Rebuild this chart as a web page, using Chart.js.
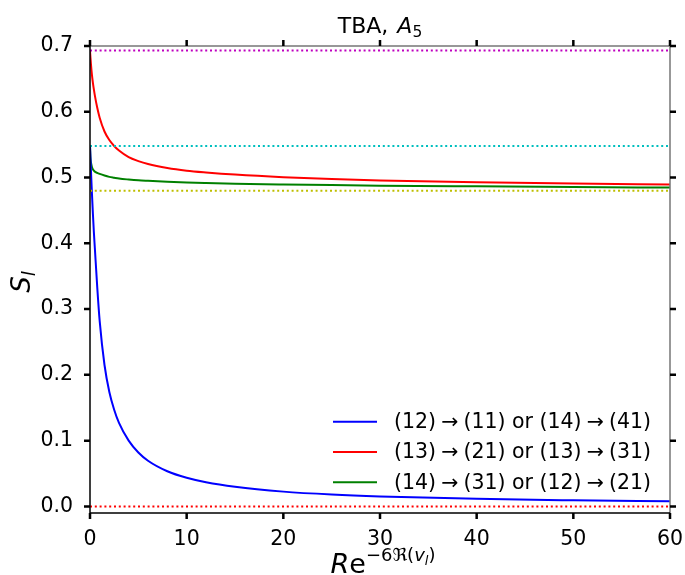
<!DOCTYPE html>
<html>
<head>
<meta charset="utf-8">
<script src="https://cdn.jsdelivr.net/npm/chart.js@4.4.1/dist/chart.umd.min.js"></script>
<style>
  html, body { margin: 0; padding: 0; background: #fff; }
  #wrap { width: 685px; height: 575px; }
</style>
</head>
<body>
<div id="wrap"><canvas id="chart" width="685" height="575"></canvas></div>
<script>
const xVals = [0, 0.05, 0.1, 0.2, 0.3, 0.4, 0.5, 0.75, 1, 1.5, 2, 2.5, 3, 4, 5, 6, 8, 10, 12, 15, 20, 25, 30, 40, 50, 60];

// (12)->(11) or (14)->(41)
const blueS = [0.548, 0.528, 0.510, 0.476, 0.445, 0.417, 0.393, 0.333, 0.282, 0.215, 0.174, 0.147, 0.127, 0.100, 0.082, 0.0695, 0.0535, 0.0435, 0.0367, 0.0298, 0.0225, 0.0181, 0.0152, 0.0115, 0.0093, 0.0077];
// (13)->(21) or (13)->(31)
const redS = [0.693, 0.682, 0.672, 0.656, 0.644, 0.634, 0.625, 0.606, 0.591, 0.570, 0.557, 0.548, 0.541, 0.531, 0.525, 0.5205, 0.5145, 0.5105, 0.5078, 0.5045, 0.5005, 0.4977, 0.4957, 0.4928, 0.4908, 0.4894];
// (14)->(31) or (12)->(21)
const greenS = [0.548, 0.530, 0.523, 0.516, 0.5125, 0.5105, 0.509, 0.507, 0.5055, 0.503, 0.501, 0.4997, 0.4985, 0.497, 0.4958, 0.495, 0.4936, 0.4925, 0.4917, 0.4907, 0.4895, 0.4885, 0.4877, 0.4866, 0.4856, 0.4848];

const seriesNames = [
    ['(12)', '(11) or (14)', '(41)'],
    ['(13)', '(21) or (13)', '(31)'],
    ['(14)', '(31) or (12)', '(21)']
];
const seriesColors = ['#0000ff', '#ff0000', '#008000'];

// dotted reference levels
const refLevels = [0.693, 0.548, 0.480, 0.0];
const refColors = ['#bf00bf', '#00bfbf', '#bfbf00', '#ff0000'];

const xTicks = [0, 10, 20, 30, 40, 50, 60];
const yTicks = [0, 0.1, 0.2, 0.3, 0.4, 0.5, 0.6, 0.7];

const FONT = '"DejaVu Sans", sans-serif';

function toPoints(ys) {
    return xVals.map((x, i) => ({ x: x, y: ys[i] }));
}

const datasets = [];
refLevels.forEach((lv, i) => {
    datasets.push({
        label: 'ref' + i,
        data: [{ x: 0, y: lv }, { x: 60, y: lv }],
        borderColor: refColors[i],
        borderWidth: 2,
        borderDash: [2, 2.8],
        pointRadius: 0,
        fill: false
    });
});
[blueS, redS, greenS].forEach((ys, i) => {
    datasets.push({
        label: seriesNames[i].join(' -> '),
        data: toPoints(ys),
        borderColor: seriesColors[i],
        borderWidth: 2,
        pointRadius: 0,
        cubicInterpolationMode: 'monotone',
        fill: false
    });
});

// spines, ticks, titles and legend drawn matplotlib-style
const decorPlugin = {
    id: 'decor',
    afterDraw(chart) {
        const ctx = chart.ctx;
        const a = chart.chartArea;
        const xs = chart.scales.x, ys = chart.scales.y;
        ctx.save();

        // spines
        ctx.lineWidth = 1.5;
        ctx.strokeStyle = '#777';
        ctx.beginPath();
        ctx.moveTo(a.left, a.top); ctx.lineTo(a.right, a.top); ctx.lineTo(a.right, a.bottom);
        ctx.stroke();
        ctx.strokeStyle = '#000';
        ctx.beginPath();
        ctx.moveTo(a.left, a.top); ctx.lineTo(a.left, a.bottom); ctx.lineTo(a.right, a.bottom);
        ctx.stroke();

        // ticks (outward, all four sides)
        const tl = 6;
        ctx.lineWidth = 2.5;
        ctx.strokeStyle = '#000';
        ctx.beginPath();
        xTicks.forEach(v => {
            const px = xs.getPixelForValue(v);
            ctx.moveTo(px, a.bottom); ctx.lineTo(px, a.bottom + tl);
            ctx.moveTo(px, a.top); ctx.lineTo(px, a.top - tl);
        });
        yTicks.forEach(v => {
            const py = ys.getPixelForValue(v);
            ctx.moveTo(a.left, py); ctx.lineTo(a.left - tl, py);
            ctx.moveTo(a.right, py); ctx.lineTo(a.right + tl, py);
        });
        ctx.stroke();

        ctx.fillStyle = '#000';
        ctx.textBaseline = 'alphabetic';
        ctx.textAlign = 'left';

        // title: TBA, A_5
        const tParts = [
            { t: 'TBA,', f: '22px ' + FONT, dy: 0 },
            { t: ' ', f: '22px ' + FONT, dy: 0, gap: 9 },
            { t: 'A', f: 'italic 22px ' + FONT, dy: 0 },
            { t: '5', f: '15.5px ' + FONT, dy: 4 }
        ];
        drawParts(ctx, tParts, 380, 33);

        // x label: R e^{-6 Re(v_l)}
        const xParts = [
            { t: 'R', f: 'italic 27px ' + FONT, dy: 0 },
            { t: 'e', f: '27px ' + FONT, dy: 0 },
            { t: '\u22126\u211c(', f: '18px ' + FONT, dy: -12 },
            { t: 'v', f: 'italic 18px ' + FONT, dy: -12 },
            { t: 'l', f: 'italic 13px ' + FONT, dy: -8 },
            { t: ')', f: '18px ' + FONT, dy: -12 }
        ];
        drawParts(ctx, xParts, 383, 573);

        // y label: S_l
        ctx.save();
        ctx.translate(30, 282);
        ctx.rotate(-Math.PI / 2);
        drawParts(ctx, [
            { t: 'S', f: 'italic 26px ' + FONT, dy: 0 },
            { t: 'l', f: 'italic 18px ' + FONT, dy: 5 }
        ], 0, 0);
        ctx.restore();

        // legend, lower right inside the axes
        const rows = [421.7, 452, 482.3];
        const textLeft = 394, textRight = 651;
        ctx.font = '20.5px ' + FONT;
        ctx.textBaseline = 'middle';
        rows.forEach((ry, i) => {
            ctx.strokeStyle = seriesColors[i];
            ctx.lineWidth = 2;
            ctx.beginPath();
            ctx.moveTo(333, ry); ctx.lineTo(377, ry);
            ctx.stroke();

            const pieces = [seriesNames[i][0], '\u2192', seriesNames[i][1], '\u2192', seriesNames[i][2]];
            let used = 0;
            pieces.forEach(p => { used += ctx.measureText(p).width; });
            const gap = Math.max(2, (textRight - textLeft - used) / 4);
            let x = textLeft;
            pieces.forEach(p => {
                ctx.fillText(p, x, ry + 1);
                x += ctx.measureText(p).width + gap;
            });
        });

        ctx.restore();
    }
};

function drawParts(ctx, parts, cx, baseY) {
    let w = 0;
    parts.forEach(p => { ctx.font = p.f; w += p.gap !== undefined ? p.gap : ctx.measureText(p.t).width; });
    let x = cx - w / 2;
    parts.forEach(p => {
        ctx.font = p.f;
        if (p.gap === undefined) ctx.fillText(p.t, x, baseY + p.dy);
        x += p.gap !== undefined ? p.gap : ctx.measureText(p.t).width;
    });
}

new Chart(document.getElementById('chart').getContext('2d'), {
    type: 'line',
    data: { datasets: datasets },
    options: {
        responsive: false,
        animation: false,
        layout: { padding: { left: 0, right: 15, top: 46, bottom: 0 } },
        plugins: {
            legend: { display: false },
            title: { display: false },
            tooltip: { enabled: false }
        },
        scales: {
            x: {
                type: 'linear',
                min: 0,
                max: 60,
                grid: { display: false, drawTicks: false },
                border: { display: false },
                afterBuildTicks: s => { s.ticks = xTicks.map(v => ({ value: v })); },
                afterFit: s => { s.height = 62; s.paddingLeft = 0; s.paddingRight = 0; },
                ticks: {
                    padding: 14,
                    color: '#000',
                    font: { family: FONT, size: 20.5 },
                    maxRotation: 0,
                    callback: v => String(v)
                }
            },
            y: {
                type: 'linear',
                min: -0.01,
                max: 0.70,
                grid: { display: false, drawTicks: false },
                border: { display: false },
                afterBuildTicks: s => { s.ticks = yTicks.map(v => ({ value: v })); },
                afterFit: s => { s.width = 90; s.paddingTop = 0; s.paddingBottom = 0; },
                ticks: {
                    padding: 17,
                    color: '#000',
                    font: { family: FONT, size: 20.5 },
                    callback: v => v.toFixed(1)
                }
            }
        }
    },
    plugins: [decorPlugin]
});
</script>
</body>
</html>
